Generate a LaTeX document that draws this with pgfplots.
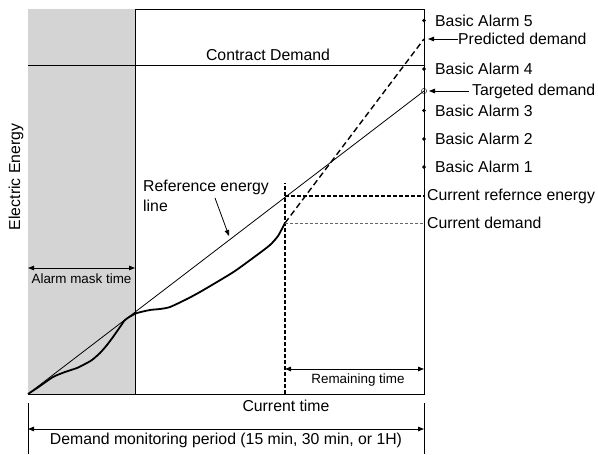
\documentclass[border=0pt]{standalone}
\usepackage{pgfplots}
\pgfplotsset{compat=1.18}
\usepackage{fontspec}
\setmainfont{Liberation Sans}
\usetikzlibrary{arrows.meta}
\definecolor{maskgray}{RGB}{212,212,212}
\newcommand\mfs{\fontsize{15.8bp}{18bp}\selectfont}
\newcommand\sfs{\fontsize{13.4bp}{15bp}\selectfont}
\begin{document}
\begin{tikzpicture}[>={Triangle[length=6bp,width=4.5bp]}]
\begin{axis}[
  at={(0,0)}, anchor=south west,
  width=396bp, height=384.5bp, scale only axis,
  xmin=0, xmax=396, ymin=0, ymax=384.5,
  xtick=\empty, ytick=\empty,
  axis line style={line width=0.9bp},
  clip=false,
]
% alarm mask region
\addplot[draw=none, fill=maskgray] coordinates {(0,384.5) (107,384.5)} \closedcycle;
\addplot[black, line width=0.9bp] coordinates {(107,0) (107,384.5)};
% contract demand
\addplot[black, line width=0.9bp] coordinates {(0,329) (396,329)};
% reference energy line
\addplot[black, line width=0.8bp] coordinates {(0,0) (396,303)};
% actual energy
\addplot[black, line width=1.8bp, smooth, tension=0.4] coordinates {
(0,0) (12,8) (25,17) (37,22) (49,26) (57,30) (64,34) (72,41) (79,49) (85,57)
(92,67) (97,74) (103,78) (109,81) (122,84) (132,85) (142,87) (159,95) (172,102)
(189,112) (207,123) (229,139) (242,149) (250,158) (257,171)};
% predicted demand
\addplot[black, line width=1.4bp, dash pattern=on 6bp off 3.5bp] coordinates {(257,171) (396,355)};
% current time
\addplot[black, line width=1.4bp, dash pattern=on 4bp off 2bp] coordinates {(257,0) (257,211)};
% current reference energy
\addplot[black, line width=1.4bp, dash pattern=on 4bp off 2bp] coordinates {(257,198) (396,198)};
% current demand
\addplot[black!60, line width=0.6bp, dash pattern=on 3bp off 2bp] coordinates {(257,171) (396,171)};
% alarm dots
\addplot[only marks, mark=*, mark size=1.6bp, black] coordinates {(396,373.5) (396,325) (396,283.5) (396,255) (396,227)};
\addplot[only marks, mark=o, mark size=2.6bp, black, thin] coordinates {(396,303)};

% labels right
\node[anchor=west, inner sep=0, font=\mfs] at (axis cs:407,373.5) {Basic Alarm 5};
\node[anchor=west, inner sep=0, font=\mfs] at (axis cs:430,355) {Predicted demand};
\draw[->, line width=0.8bp] (axis cs:430,355) -- (axis cs:400,355);
\node[anchor=west, inner sep=0, font=\mfs] at (axis cs:407,325) {Basic Alarm 4};
\node[anchor=west, inner sep=0, font=\mfs] at (axis cs:444,303) {Targeted demand};
\draw[->, line width=0.8bp] (axis cs:441,303) -- (axis cs:401,303);
\node[anchor=west, inner sep=0, font=\mfs] at (axis cs:407,283.5) {Basic Alarm 3};
\node[anchor=west, inner sep=0, font=\mfs] at (axis cs:407,255) {Basic Alarm 2};
\node[anchor=west, inner sep=0, font=\mfs] at (axis cs:407,227) {Basic Alarm 1};
\node[anchor=west, inner sep=0, font=\mfs] at (axis cs:399,198) {Current refernce energy};
\node[anchor=west, inner sep=0, font=\mfs] at (axis cs:399,171) {Current demand};

% inside labels
\node[anchor=base, inner sep=0, font=\mfs] at (axis cs:240,333) {Contract Demand};
\node[anchor=base west, inner sep=0, font=\mfs] at (axis cs:115,202) {Reference energy};
\node[anchor=base west, inner sep=0, font=\mfs] at (axis cs:115,182) {line};
\draw[->, line width=0.8bp] (axis cs:187,196) -- (axis cs:201,158);

\draw[<->, line width=0.9bp] (axis cs:0,126) -- (axis cs:107,126);
\node[anchor=base, inner sep=0, font=\sfs] at (axis cs:53.5,110.5) {Alarm mask time};
\draw[<->, line width=0.9bp] (axis cs:257,25) -- (axis cs:396,25);
\node[anchor=base, inner sep=0, font=\sfs] at (axis cs:330,11) {Remaining time};

% below axis
\node[anchor=base, inner sep=0, font=\mfs] at (axis cs:258,-17.5) {Current time};
\draw[line width=0.9bp] (axis cs:0,-9) -- (axis cs:0,-60);
\draw[line width=0.9bp] (axis cs:396,-9) -- (axis cs:396,-60);
\draw[<->, line width=0.9bp] (axis cs:0,-35) -- (axis cs:396,-35);
\node[anchor=base, inner sep=0, font=\mfs] at (axis cs:198,-50) {Demand monitoring period (15 min, 30 min, or 1H)};

% y label
\node[rotate=90, inner sep=0, font=\mfs] at (axis cs:-12,217) {Electric Energy};
\end{axis}
\useasboundingbox (-28bp,-54bp) rectangle (570bp,394bp);
\end{tikzpicture}
\end{document}
